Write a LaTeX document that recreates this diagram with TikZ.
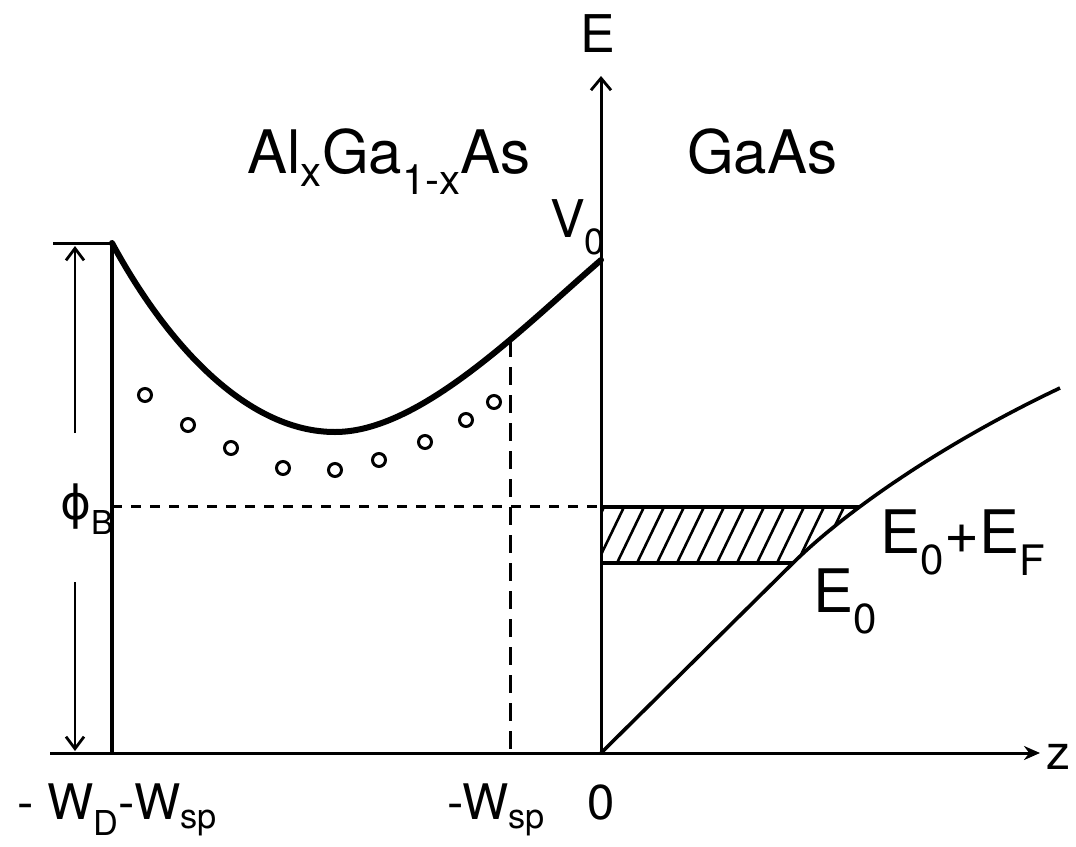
\documentclass[tikz,border=0pt]{standalone}
\usepackage{fontspec}
\setmainfont{TeX Gyre Heros}
\newfontfamily\dvs{DejaVu Sans}
\usetikzlibrary{arrows.meta}
\begin{document}
\begin{tikzpicture}[x=1pt,y=-1pt,
  ax/.style={line width=3pt},
  wall/.style={line width=4.8pt},
  band/.style={line width=6pt, line join=round, line cap=round},
  gaas/.style={line width=3.6pt, line join=round},
  dimarrow/.style={line width=2.8pt,-{Straight Barb[length=12pt,width=18pt,line width=2.8pt]}},
  dashA/.style={line width=3pt, dash pattern=on 10pt off 9pt},
  dashB/.style={line width=3pt, dash pattern=on 18pt off 10pt},
  donor/.style={circle, draw, line width=3pt, minimum size=13pt, inner sep=0pt},
  big/.style={inner sep=0pt, anchor=base west, font=\fontsize{60}{60}\selectfont},
  mid/.style={inner sep=0pt, anchor=base west, font=\fontsize{52}{52}\selectfont},
  small/.style={inner sep=0pt, anchor=base west, font=\fontsize{49}{49}\selectfont},
]
\useasboundingbox (0,0) rectangle (1076,846);

% key coordinates
\coordinate (zL) at (50,753);
\coordinate (zR) at (1040,753);
\coordinate (O) at (601,753);
\coordinate (Etop) at (601,76);
\coordinate (wb) at (112,753);
\coordinate (wt) at (112,243);
\coordinate (tk) at (53,243);
\coordinate (ua) at (75,433);
\coordinate (uat) at (75,246);
\coordinate (la) at (75,582);
\coordinate (lab) at (75,751);
\coordinate (dl) at (112,506);
\coordinate (dr) at (601,506);
\coordinate (vt) at (510,339);
\coordinate (vb) at (510,753);
\coordinate (cmin) at (335,432);
\coordinate (V) at (601,260);
\coordinate (kink) at (793,563);
\coordinate (gend) at (1060,388);
\coordinate (ht) at (860,507);
\coordinate (hl) at (601,507);
\coordinate (hb) at (601,563);

% axes
\draw[ax,-{Stealth[length=16pt,width=14pt]}] (zL) -- (zR);
\draw[ax,-{Straight Barb[length=12pt,width=20pt,line width=2.8pt]}] (O) -- (Etop);
\node[inner sep=0pt, anchor=base, font=\fontsize{52}{52}\selectfont] (Elab) at (598,52) {E};
\node[inner sep=0pt, anchor=base west, font=\fontsize{48}{48}\selectfont] (zlab) at (1046,769) {z};

% left wall and barrier height
\draw[wall] (wb) -- (wt);
\draw[ax] (tk) -- (wt);
\draw[dimarrow] (ua) -- (uat);
\draw[dimarrow] (la) -- (lab);
\node[inner sep=0pt, anchor=base west, font=\fontsize{47}{47}\selectfont] (phiB) at (60,519) {{\dvs ϕ}\textsubscript{B}};

% dashed lines
\draw[dashA] (dl) -- (dr);
\draw[dashB] (vt) -- (vb);

% conduction band in AlGaAs
\draw[band] (wt) .. controls (170,350) and (250,432) .. (cmin)
                 .. controls (420,432) and (520,330) .. (V);

% ionized donors
\foreach \i/\p in {1/{(145,395)},2/{(188,425)},3/{(231,448)},4/{(283,468)},5/{(335,470)},6/{(379,460)},7/{(425,442)},8/{(466,420)},9/{(494,402)}}
  \node[donor] (d\i) at \p {};

% GaAs band
\draw[gaas] (O) -- (kink) .. controls (850,507) and (950,440) .. (gend);

% hatched filled states
\begin{scope}
  \clip (hl) -- (ht) -- (kink) -- (hb) -- cycle;
  \foreach \x in {577,597,...,877}
    \draw[line width=2.6pt] (\x,563) -- ++(27,-56);
\end{scope}
\draw[line width=3.2pt] (hl) -- (ht);
\draw[line width=3.2pt] (hb) -- (kink);

% labels
\node[big] (alg) at (247,173) {Al\textsubscript{x}Ga\textsubscript{1-x}As};
\node[big] (gal) at (687,173) {GaAs};
\node[mid] (v0) at (550,237) {V\textsubscript{0}};
\node[big] (e0ef) at (880,553) {E\textsubscript{0}+E\textsubscript{F}};
\node[big] (e0) at (813,612) {E\textsubscript{0}};
\node[small] (wdsp) at (17,819) {- W\textsubscript{D}-W\textsubscript{sp}};
\node[small] (wsp) at (447,819) {-W\textsubscript{sp}};
\node[small] (zero) at (587,819) {0};
\end{tikzpicture}
\end{document}
